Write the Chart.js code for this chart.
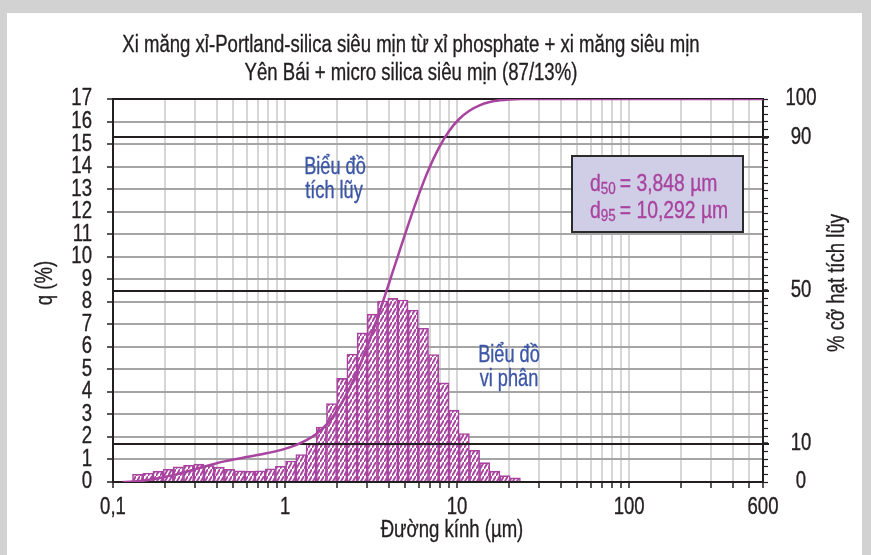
<!DOCTYPE html>
<html>
<head>
<meta charset="utf-8">
<title>Phân bố cỡ hạt</title>
<script src="https://cdn.jsdelivr.net/npm/chart.js@4.4.1/dist/chart.umd.min.js"></script>
<style>
    html, body { margin: 0; padding: 0; background: #fff; }
    canvas { display: block; }
</style>
</head>
<body>
<canvas id="psdChart" width="871" height="555"></canvas>
<script>
(function () {
    'use strict';

    // channel boundaries of the laser diffraction analyser (µm)
    const binEdges = [0.1298, 0.1488, 0.1706, 0.1956, 0.2242, 0.2570, 0.2946, 0.3378, 0.3872, 0.4439,
        0.5089, 0.5834, 0.6688, 0.7668, 0.8790, 1.008, 1.155, 1.324, 1.518, 1.740,
        1.995, 2.287, 2.622, 3.006, 3.446, 3.951, 4.529, 5.192, 5.952, 6.824,
        7.823, 8.968, 10.28, 11.79, 13.51, 15.49, 17.76, 20.36, 23.34];

    // differential distribution q (%) per channel
    const qPercent = [0.34, 0.40, 0.48, 0.57, 0.67, 0.74, 0.79, 0.73, 0.66, 0.56,
        0.50, 0.48, 0.50, 0.58, 0.70, 0.93, 1.22, 1.70, 2.44, 3.48,
        4.60, 5.68, 6.62, 7.45, 8.03, 8.15, 8.08, 7.63, 6.82, 5.66,
        4.40, 3.19, 2.15, 1.41, 0.86, 0.48, 0.28, 0.18];

    // cumulative passing (%) against size (µm)
    const cumSize = [0.114, 0.1488, 0.1706, 0.1956, 0.2242, 0.2570, 0.2946, 0.3378, 0.3872, 0.4439,
        0.5089, 0.5834, 0.6688, 0.7668, 0.8790, 1.008, 1.155, 1.324, 1.518, 1.740,
        1.995, 2.287, 2.622, 3.006, 3.446, 3.951, 4.529, 5.192, 5.952, 6.824,
        7.823, 8.968, 10.28, 11.79, 13.51, 15.49, 17.76, 20.36, 23.34, 40, 600];
    const cumPassing = [0, 0.34, 0.74, 1.22, 1.79, 2.46, 3.20, 3.99, 4.72, 5.38,
        5.94, 6.44, 6.92, 7.42, 8.00, 8.70, 9.63, 10.85, 12.55, 14.99,
        18.47, 23.07, 28.75, 35.37, 42.82, 50.85, 59.0, 67.08, 74.71, 81.53,
        87.19, 91.59, 94.78, 96.93, 98.34, 99.2, 99.68, 99.9, 100, 100, 100];

    // axis ticks
    const xGridValues = [0.1, 0.2, 0.3, 0.4, 0.5, 0.6, 0.7, 0.8, 0.9,
        1, 2, 3, 4, 5, 6, 7, 8, 9,
        10, 20, 30, 40, 50, 60, 70, 80, 90,
        100, 200, 300, 400, 500, 600];
    const xLabelled = [0.1, 1, 10, 100, 600];
    const cumLabelled = [0, 10, 50, 90, 100];
    const cumRefLevels = [10, 50, 90];

    const titleLines = [
        'Xi măng xỉ-Portland-silica siêu mịn từ xỉ phosphate + xi măng siêu mịn',
        'Yên Bái + micro silica siêu mịn (87/13%)'
    ];
    const d50 = '3,848';
    const d95 = '10,292';

    // no condensed face is available, so text is squeezed horizontally
    const FONT = '"Liberation Sans", Arial, sans-serif';
    const STRETCH = 0.79;
    const INK = '#231f20';
    const MAGENTA = '#a8449f';
    const BLUE = '#3c56a6';

    function text(ctx, str, x, y, size, align, angle) {
        ctx.save();
        ctx.font = size + 'px ' + FONT;
        ctx.textAlign = align || 'center';
        ctx.textBaseline = 'middle';
        ctx.translate(x, y);
        if (angle) {
            ctx.rotate(angle);
        }
        ctx.scale(STRETCH, 1);
        ctx.fillText(str, 0, 0);
        ctx.lineWidth = 0.35;
        ctx.strokeStyle = ctx.fillStyle;
        ctx.strokeText(str, 0, 0);
        ctx.restore();
    }

    function textWidth(ctx, str, size) {
        ctx.font = size + 'px ' + FONT;
        return ctx.measureText(str).width * STRETCH;
    }

    function hatch(color) {
        const w = 4, h = 7;
        const tile = document.createElement('canvas');
        tile.width = w;
        tile.height = h;
        const g = tile.getContext('2d');
        g.fillStyle = '#fff';
        g.fillRect(0, 0, w, h);
        g.strokeStyle = color;
        g.lineWidth = 1.9;
        g.beginPath();
        g.moveTo(-w, 2 * h);
        g.lineTo(2 * w, -h);
        g.stroke();
        return g.createPattern(tile, 'repeat');
    }

    const barPoints = qPercent.map(function (q, i) {
        return { x: Math.sqrt(binEdges[i] * binEdges[i + 1]), y: q };
    });
    const cumPoints = cumSize.map(function (s, i) {
        return { x: s, y: cumPassing[i] };
    });

    const frame = {
        id: 'frame',
        beforeDraw: function (chart) {
            const ctx = chart.ctx;
            ctx.save();
            ctx.fillStyle = '#d2d2d2';
            ctx.fillRect(0, 0, chart.width, chart.height);
            ctx.fillStyle = '#fff';
            ctx.fillRect(7, 13, chart.width - 16, chart.height - 13);
            ctx.restore();
        }
    };

    // black 10 / 50 / 90 % lines, over the bars but under the curve
    const refLines = {
        id: 'refLines',
        afterDatasetDraw: function (chart, args) {
            if (args.index !== 1) {
                return;
            }
            const ctx = chart.ctx;
            const area = chart.chartArea;
            const y2 = chart.scales.y2;
            ctx.save();
            ctx.strokeStyle = INK;
            ctx.lineWidth = 2;
            cumRefLevels.forEach(function (v) {
                const py = Math.round(y2.getPixelForValue(v));
                ctx.beginPath();
                ctx.moveTo(area.left, py);
                ctx.lineTo(area.right + 6, py);
                ctx.stroke();
            });
            ctx.restore();
        }
    };

    const texts = {
        id: 'texts',
        afterDraw: function (chart) {
            const ctx = chart.ctx;
            const sx = chart.scales.x;
            const sy = chart.scales.y;
            const sy2 = chart.scales.y2;
            ctx.save();
            ctx.fillStyle = INK;

            text(ctx, titleLines[0], 411, 46, 23.5);
            text(ctx, titleLines[1], 411, 74, 23.5);

            // tick labels
            xLabelled.forEach(function (v) {
                text(ctx, String(v).replace('.', ','), sx.getPixelForValue(v), 508, 23.5);
            });
            for (let v = sy.min; v <= sy.max; v++) {
                text(ctx, String(v), sy.right - 21, sy.getPixelForValue(v), 23.5, 'right');
            }
            cumLabelled.forEach(function (v) {
                text(ctx, String(v), sy2.left + 38, sy2.getPixelForValue(v), 23.5);
            });

            // axis titles
            text(ctx, 'Đường kính (µm)', 452, 531, 23.5);
            text(ctx, 'q (%)', 46, 283, 23.5, 'center', -Math.PI / 2);
            text(ctx, '% cỡ hạt tích lũy', 838, 283, 23.5, 'center', -Math.PI / 2);

            // curve labels
            ctx.fillStyle = BLUE;
            text(ctx, 'Biểu đồ', 335, 168, 23);
            text(ctx, 'tích lũy', 334, 192, 23);
            text(ctx, 'Biểu đồ', 509, 356, 23);
            text(ctx, 'vi phân', 509, 380, 23);

            // d50 / d95 box
            ctx.fillStyle = '#d0cde6';
            ctx.fillRect(572, 156, 171, 76);
            ctx.strokeStyle = '#2b2b2b';
            ctx.lineWidth = 2;
            ctx.strokeRect(572, 156, 171, 76);

            ctx.fillStyle = MAGENTA;
            [['50', d50, 184], ['95', d95, 211]].forEach(function (row) {
                let x = 590;
                text(ctx, 'd', x, row[2], 24.5, 'left');
                x += textWidth(ctx, 'd', 24.5);
                text(ctx, row[0], x, row[2] + 5, 17, 'left');
                x += textWidth(ctx, row[0], 17) + 4;
                text(ctx, '= ' + row[1] + ' µm', x, row[2], 24.5, 'left');
            });
            ctx.restore();
        }
    };

    new Chart(document.getElementById('psdChart'), {
        type: 'bar',
        data: {
            datasets: [{
                type: 'line',
                label: 'Biểu đồ tích lũy',
                data: cumPoints,
                yAxisID: 'y2',
                borderColor: MAGENTA,
                borderWidth: 2.5,
                pointRadius: 0,
                cubicInterpolationMode: 'monotone',
                fill: false
            }, {
                type: 'bar',
                label: 'Biểu đồ vi phân',
                data: barPoints,
                yAxisID: 'y',
                backgroundColor: hatch(MAGENTA),
                borderColor: MAGENTA,
                borderWidth: 1.6,
                borderSkipped: 'start',
                barThickness: 'flex',
                categoryPercentage: 1,
                barPercentage: 1
            }]
        },
        options: {
            responsive: false,
            animation: false,
            layout: { padding: { top: 99, left: 0, right: 0, bottom: 0 } },
            plugins: {
                legend: { display: false },
                tooltip: { enabled: false },
                title: { display: false }
            },
            scales: {
                x: {
                    type: 'logarithmic',
                    min: 0.1,
                    max: 600,
                    offset: false,
                    afterBuildTicks: function (scale) {
                        scale.ticks = xGridValues.map(function (v) { return { value: v }; });
                    },
                    afterFit: function (scale) { scale.height = 73; },
                    ticks: { display: false, autoSkip: false },
                    grid: {
                        offset: false,
                        color: '#d6d6d6',
                        lineWidth: 2,
                        tickColor: INK,
                        tickWidth: 1.5,
                        tickLength: 6
                    },
                    border: { color: INK, width: 2 }
                },
                y: {
                    position: 'left',
                    min: 0,
                    max: 17,
                    afterFit: function (scale) { scale.width = 113; },
                    ticks: { display: false, stepSize: 1, autoSkip: false },
                    grid: {
                        color: function (c) { return c.tick && c.tick.value === 17 ? INK : '#a5a5a5'; },
                        lineWidth: 2,
                        tickColor: INK,
                        tickWidth: 1.5,
                        tickLength: 6
                    },
                    border: { color: INK, width: 2 }
                },
                y2: {
                    position: 'right',
                    min: 0,
                    max: 100,
                    afterBuildTicks: function (scale) {
                        const t = [];
                        for (let v = 0; v <= 100; v += 2) {
                            t.push({ value: v });
                        }
                        scale.ticks = t;
                    },
                    afterFit: function (scale) { scale.width = 108; },
                    ticks: { display: false, autoSkip: false },
                    grid: {
                        drawOnChartArea: false,
                        tickColor: INK,
                        tickWidth: function (c) {
                            return c.tick && cumRefLevels.indexOf(c.tick.value) >= 0 ? 2.5 : 1.2;
                        },
                        tickLength: 5
                    },
                    border: { color: INK, width: 2 }
                }
            }
        },
        plugins: [frame, refLines, texts]
    });
})();
</script>
</body>
</html>
